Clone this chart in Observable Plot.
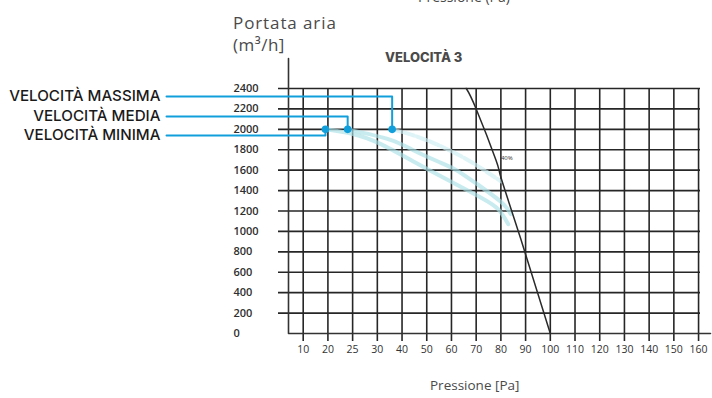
<!DOCTYPE html>
<html><head><meta charset="utf-8">
<script src="https://cdn.jsdelivr.net/npm/d3@7"></script>
<script src="https://cdn.jsdelivr.net/npm/@observablehq/plot@0.6"></script>
<style>
body{margin:0;background:#fff;}
#wrap{position:relative;width:712px;height:398px;overflow:hidden;font-family:"Open Sans",sans-serif;}
#wrap svg{position:absolute;left:0;top:0;}
.t{position:absolute;white-space:nowrap;color:#4a4a4a;line-height:20px;}
</style></head><body><div id="wrap"></div>
<script>
// ---- data ----
const pressureTicks = [10,20,25,30,40,50,60,70,80,90,100,110,120,130,140,150,160];
const flowTicks = [0,200,400,600,800,1000,1200,1400,1600,1800,2000,2200,2400];
const seriesNames = ["VELOCITÀ MASSIMA","VELOCITÀ MEDIA","VELOCITÀ MINIMA"];
const maxPressure = [36,46,57,68,80];
const maxFlow     = [2000,1930,1820,1680,1490];
const medPressure = [24,35,45,55,62,70,80,84];
const medFlow     = [2000,1900,1790,1680,1600,1470,1290,1170];
const minPressure = [19,25,31,45,58,72,79,83];
const minFlow     = [2000,1955,1860,1680,1510,1330,1215,1070];
const sysPressure = [66,70,78,80,88,100];
const sysFlow     = [2400,2200,1700,1530,930,0];
const sysLabel = "40%";

// ---- layout ----
const W = 712, H = 398;
const mL = 278, mR = 12, mT = 88, mB = 65;
const firstTickPx = 302.7, tickStepPx = 24.71;
const pxToIdx = px => (px - firstTickPx) / tickStepPx;
const pyToVal = py => (H - mB - py) / (H - mB - mT) * 2400;
// pressure -> uniform index position (chart axis is evenly spaced by tick)
const pIdx = d3.scaleLinear().domain(pressureTicks).range(d3.range(pressureTicks.length));
const toPts = (P, Q) => P.map((p, i) => ({x: pIdx(p), y: Q[i]}));

const curves = [
  {name: seriesNames[0], pts: toPts(maxPressure, maxFlow), row: pyToVal(96)},
  {name: seriesNames[1], pts: toPts(medPressure, medFlow), row: pyToVal(116)},
  {name: seriesNames[2], pts: toPts(minPressure, minFlow), row: pyToVal(135)}
];
const sysPts = toPts(sysPressure, sysFlow);
const leaderStartX = pxToIdx(166), labelX = pxToIdx(160);
const axisX = pxToIdx(288), axisEndX = pxToIdx(710), axisTopY = pyToVal(58);
const BLUE = "#119fdc", INK = "#262626", CYAN = "#a9e0e7";

const leaders = curves.flatMap((c, k) => {
  const s = c.pts[0];
  return [
    {k, x: leaderStartX, y: c.row},
    {k, x: s.x, y: c.row},
    {k, x: s.x, y: s.y}
  ];
});

const chart = Plot.plot({
  width: W, height: H,
  marginLeft: mL, marginRight: mR, marginTop: mT, marginBottom: mB,
  x: {domain: [pxToIdx(mL), pxToIdx(W - mR)], axis: null},
  y: {domain: [0, 2400], axis: null},
  style: {background: "transparent", fontFamily: "Open Sans, sans-serif"},
  marks: [
    // horizontal grid (extends left as ticks)
    Plot.ruleY(flowTicks.filter(d => d > 0), {stroke: INK, strokeWidth: 1.6}),
    // vertical grid (extends below axis as ticks)
    Plot.ruleX(pressureTicks, {x: (d, i) => i, y1: pyToVal(341), y2: 2400, stroke: INK, strokeWidth: 1.6}),
    // axis frame (left + bottom)
    Plot.line([{x: axisX, y: axisTopY}, {x: axisX, y: 0}, {x: axisEndX, y: 0}],
      {x: "x", y: "y", stroke: "#333", strokeWidth: 1.6, strokeLinejoin: "round"}),
    // performance curves
    ...curves.map((c, k) => Plot.line(c.pts, {x: "x", y: "y", curve: "natural",
      stroke: k === 0 ? "#cdeef2" : CYAN, strokeWidth: 4, strokeOpacity: 0.65,
      strokeDasharray: k === 0 ? "10,3" : null})),
    // system curve
    Plot.line(sysPts, {x: "x", y: "y", curve: "natural", stroke: "#2a2a2a", strokeWidth: 1.5}),
    Plot.text([sysLabel], {x: pIdx(79) + 0.1, y: 1715, text: d => d, textAnchor: "start", fontSize: 6, fill: "#333"}),
    // y tick labels (left aligned)
    Plot.text(flowTicks, {y: d => d, frameAnchor: "left", dx: -45, textAnchor: "start",
      text: d => String(d), fontSize: 11, fontWeight: 600, fill: "#2e2e2e"}),
    // x tick labels
    Plot.text(pressureTicks, {x: (d, i) => i, y: 0, dy: 16, text: d => String(d),
      fontSize: 10.5, fill: "#333"}),
    // leaders
    Plot.line(leaders, {x: "x", y: "y", z: "k", stroke: BLUE, strokeWidth: 2}),
    Plot.dot(curves.map(c => c.pts[0]), {x: "x", y: "y", r: 3.8, fill: BLUE}),
    Plot.text(curves, {x: labelX, y: "row", text: "name", textAnchor: "end",
      fontSize: 15.2, fontWeight: 500, fill: "#1a1a1a", fontFamily: "Inter, sans-serif"})
  ]
});
const wrap = document.getElementById("wrap");
wrap.appendChild(chart);

const texts = [
  {s: "Pressione (Pa)", left: 418, top: -13, size: 14, w: 400},
  {s: "Portata aria", left: 233, top: 13, size: 17, w: 500, ls: 0.9},
  {s: "(m³/h]", left: 233, top: 35, size: 17, w: 500, ls: 0.5},
  {s: "VELOCITÀ 3", left: 385, top: 47, size: 13, w: 800, ff: "Inter, sans-serif"},
  {s: "Pressione [Pa]", left: 430, top: 375, size: 13.5, w: 400}
];
for (const t of texts) {
  const d = document.createElement("div");
  d.className = "t";
  d.textContent = t.s;
  d.style.left = t.left + "px"; d.style.top = t.top + "px";
  d.style.fontSize = t.size + "px"; d.style.fontWeight = t.w;
  if (t.ls) d.style.letterSpacing = t.ls + "px";
  if (t.ff) d.style.fontFamily = t.ff;
  wrap.appendChild(d);
}
</script></body></html>
